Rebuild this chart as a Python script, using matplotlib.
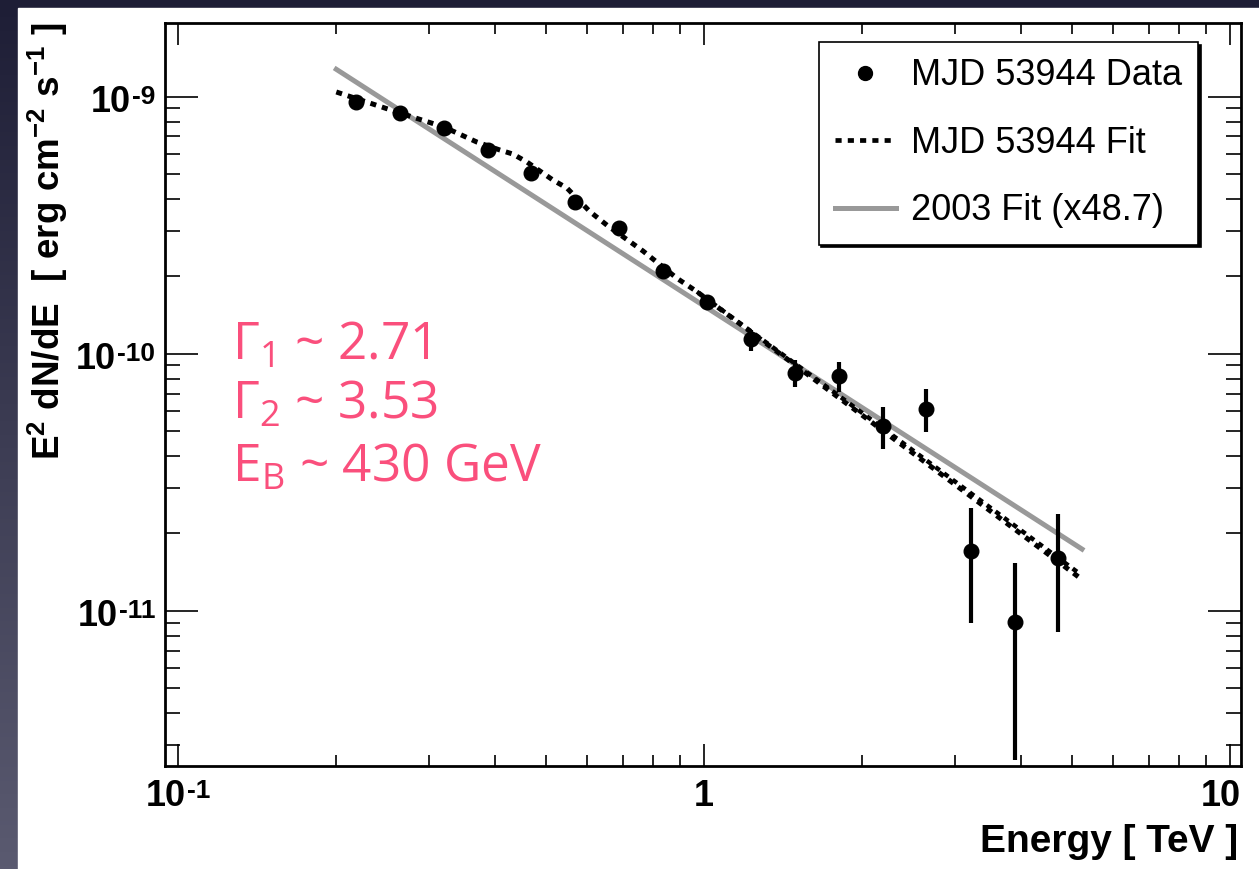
import matplotlib
matplotlib.use('Agg')
import matplotlib.pyplot as plt
import numpy as np
from matplotlib.ticker import FixedLocator, LogLocator, NullFormatter
from matplotlib.lines import Line2D
from matplotlib.patches import Rectangle
from matplotlib.colors import LinearSegmentedColormap
from matplotlib.offsetbox import TextArea, HPacker, VPacker, DrawingArea, AnnotationBbox

plt.rcParams['font.family'] = ['Liberation Sans', 'DejaVu Sans']
plt.rcParams['mathtext.fontset'] = 'custom'
plt.rcParams['mathtext.bf'] = 'Liberation Sans:bold'
plt.rcParams['mathtext.rm'] = 'Open Sans'
plt.rcParams['mathtext.it'] = 'Open Sans:italic'

# MJD 53944 data points (TeV, erg cm^-2 s^-1)
energy = [0.2176, 0.2642, 0.3208, 0.389, 0.470, 0.5685, 0.689, 0.8366, 1.013,
          1.227, 1.489, 1.808, 2.186, 2.646, 3.214, 3.896, 4.716]
flux = [9.56e-10, 8.62e-10, 7.53e-10, 6.20e-10, 5.06e-10, 3.90e-10, 3.076e-10,
        2.104e-10, 1.593e-10, 1.138e-10, 8.43e-11, 8.19e-11, 5.25e-11,
        6.11e-11, 1.707e-11, 9.02e-12, 1.607e-11]
flux_hi = [9.8e-10, 8.8e-10, 7.7e-10, 6.35e-10, 5.2e-10, 4.02e-10, 3.2e-10,
           2.2e-10, 1.67e-10, 1.237e-10, 9.45e-11, 9.31e-11, 6.18e-11,
           7.27e-11, 2.52e-11, 1.538e-11, 2.37e-11]
flux_lo = [9.2e-10, 8.4e-10, 7.35e-10, 6.05e-10, 4.92e-10, 3.78e-10, 2.96e-10,
           2.01e-10, 1.52e-10, 1.027e-10, 7.42e-11, 7.11e-11, 4.25e-11,
           4.97e-11, 8.93e-12, 2.62e-12, 8.29e-12]

# MJD 53944 fit curve
fit_e = [0.2, 0.218, 0.2642, 0.3204, 0.3701, 0.4094, 0.4333, 0.4607, 0.5162,
         0.549, 0.6071, 0.6569, 0.7656, 0.8886, 0.9698, 5.186]
fit_f = [1.043e-9, 9.84e-10, 8.64e-10, 7.62e-10, 6.66e-10, 6.20e-10, 5.98e-10,
         5.57e-10, 4.74e-10, 4.41e-10, 3.57e-10, 3.14e-10, 2.51e-10, 1.965e-10,
         1.743e-10, 1.341e-11]
fit2_e = [0.9698, 2.0, 5.186]
fit2_f = [1.743e-10, 5.88e-11, 1.39e-11]

# 2003 fit scaled x48.7
old_e = [0.2, 5.23]
old_f = [1.278e-9, 1.738e-11]

xticks = [0.1, 1, 10]
xtick_base = ['10', '1', '10']
xtick_exp = ['-1', '', '']
yticks = [1e-11, 1e-10, 1e-9]
ytick_base = ['10', '10', '10']
ytick_exp = ['-11', '-10', '-9']

fig = plt.figure(figsize=(12.59, 8.69), dpi=100)

# dark slide background + white panel
bg = fig.add_axes([0, 0, 1, 1], zorder=-10)
cm = LinearSegmentedColormap.from_list('bg', ['#5a5a70', '#1e1e36'])
grad = np.linspace(0, 1, 256).reshape(-1, 1)
bg.imshow(grad, extent=[0, 1, 0, 1], aspect='auto', cmap=cm, origin='lower')
bg.add_patch(Rectangle((18 / 1259, 0), 1, 1 - 8 / 869, color='white'))
bg.set_xlim(0, 1)
bg.set_ylim(0, 1)
bg.axis('off')

ax = fig.add_axes([165 / 1259, 1 - 766 / 869, 1076 / 1259, 743.3 / 869])
ax.set_facecolor('white')

ax.plot(old_e, old_f, color='#999999', lw=3.6, zorder=2)
ax.plot(fit_e, fit_f, color='black', lw=3.6, ls=(0, (1.2, 1.2)), zorder=3)
ax.plot(fit2_e, fit2_f, color='black', lw=3.2, ls=(0.6, (1.2, 1.2)), zorder=3)

f = np.array(flux)
yerr = [f - np.array(flux_lo), np.array(flux_hi) - f]
ax.errorbar(energy, flux, yerr=yerr, fmt='o', color='black', ms=10.5,
            elinewidth=3, capsize=0, zorder=4)

ax.set_xscale('log')
ax.set_yscale('log')
ax.set_xlim(0.0945, 10.49)
ax.set_ylim(2.49e-12, 1.94e-9)

ax.xaxis.set_major_locator(FixedLocator(xticks))
ax.xaxis.set_minor_locator(LogLocator(base=10, subs=np.arange(2, 10), numticks=20))
ax.yaxis.set_major_locator(FixedLocator(yticks))
ax.yaxis.set_minor_locator(LogLocator(base=10, subs=np.arange(2, 10), numticks=20))
ax.xaxis.set_minor_formatter(NullFormatter())
ax.yaxis.set_minor_formatter(NullFormatter())

ax.tick_params(axis='both', which='both', direction='in', top=True, right=True,
               width=1.2, colors='black', labelleft=False, labelbottom=False)
ax.tick_params(axis='x', which='major', length=16)
ax.tick_params(axis='x', which='minor', length=8)
ax.tick_params(axis='y', which='major', length=23.5)
ax.tick_params(axis='y', which='minor', length=11)
for s in ax.spines.values():
    s.set_linewidth(2)


# ROOT-style tick labels: big bold base with small raised exponent
def power_label(base, expo, xy, trans, align, offset):
    parts = [TextArea(base, textprops=dict(fontsize=26, fontweight='bold'))]
    if expo:
        sup = VPacker(children=[TextArea(expo, textprops=dict(fontsize=19, fontweight='bold')),
                                DrawingArea(1, 8)], align='left', pad=0, sep=0)
        parts.append(sup)
    box = HPacker(children=parts, align='bottom', pad=0, sep=1)
    ab = AnnotationBbox(box, xy, xycoords=trans, xybox=offset,
                        boxcoords='offset points', box_alignment=align,
                        frameon=False, pad=0, annotation_clip=False)
    ax.add_artist(ab)


for v, b, e in zip(yticks, ytick_base, ytick_exp):
    power_label(b, e, (0, v), ax.get_yaxis_transform(), (1, 0.5), (-7, -4))
for i, (v, b, e) in enumerate(zip(xticks, xtick_base, xtick_exp)):
    dx = -7 if i == len(xticks) - 1 else 0
    power_label(b, e, (v, 0), ax.get_xaxis_transform(), (0.5, 1), (dx, -9))

fig.text(1238 / 1259, 1 - 852 / 869, 'Energy [ TeV ]', ha='right', va='baseline',
         fontsize=28, fontweight='bold')
fig.text(0.038, 1 - 22 / 869,
         r'$\mathbf{E^{2}\ dN/dE\ \ [\ erg\ cm^{-2}\ s^{-1}\ ]}$',
         rotation=90, ha='center', va='top', fontsize=26.5)

# legend
handles = [Line2D([], [], marker='o', ls='none', color='black', ms=10),
           Line2D([], [], color='black', lw=3.4, ls=(0, (1.3, 1.3))),
           Line2D([], [], color='#999999', lw=3.6)]
labels = ['MJD 53944 Data', 'MJD 53944 Fit', '2003 Fit (x48.7)']
leg = ax.legend(handles, labels, loc='upper right', bbox_to_anchor=(0.960, 0.974),
                borderaxespad=0, fontsize=26, frameon=True, fancybox=False,
                shadow={'color': 'black', 'alpha': 1}, labelspacing=0.9,
                borderpad=0.45, handlelength=1.7, handletextpad=0.4)
leg.get_frame().set_edgecolor('black')
leg.get_frame().set_linewidth(1.2)
leg.get_frame().set_alpha(1)

# fit parameters
pink = '#fa4f7c'
fig.text(232 / 1259, 1 - 360 / 869, r'$\mathrm{Γ}_{\mathrm{1}}$ ~ 2.71',
         color=pink, fontsize=37, family=['Open Sans', 'DejaVu Sans'], va='baseline')
fig.text(232 / 1259, 1 - 419 / 869, r'$\mathrm{Γ}_{\mathrm{2}}$ ~ 3.53',
         color=pink, fontsize=37, family=['Open Sans', 'DejaVu Sans'], va='baseline')
fig.text(232 / 1259, 1 - 482 / 869, r'$\mathrm{E}_{\mathrm{B}}$ ~ 430 GeV',
         color=pink, fontsize=37, family=['Open Sans', 'DejaVu Sans'], va='baseline')

fig.savefig('out.png', dpi=100)
